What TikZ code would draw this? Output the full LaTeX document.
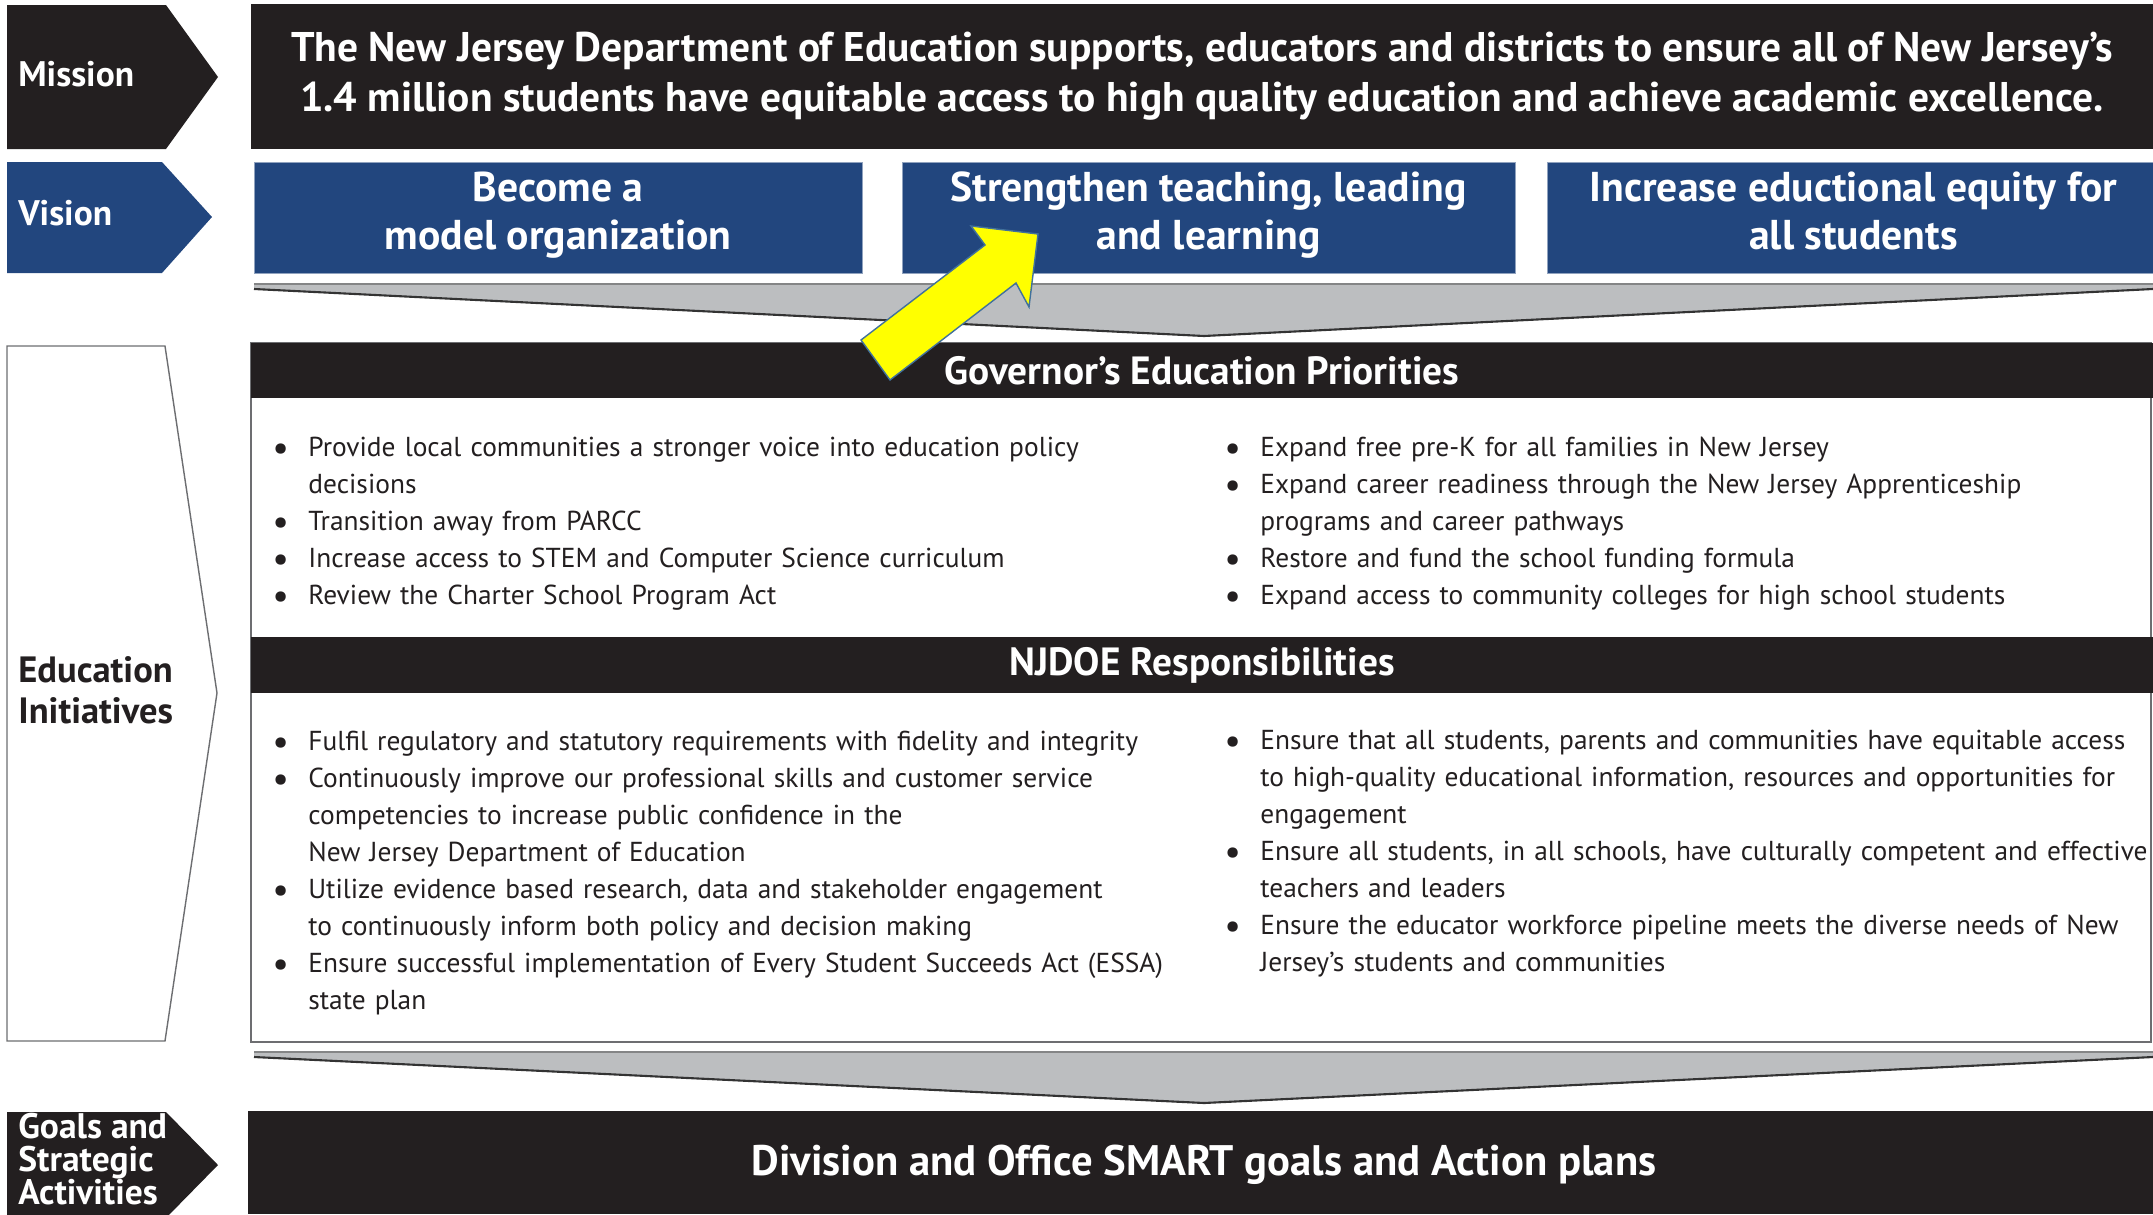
\documentclass[tikz,border=0pt]{standalone}
\usepackage{fontspec}
\setmainfont{PT Sans}
\usetikzlibrary{positioning, fit}

\definecolor{njblack}{HTML}{231F20}
\definecolor{njblue}{HTML}{22467E}
\definecolor{njgray}{HTML}{BCBEC0}
\definecolor{njline}{HTML}{6D6E71}
\definecolor{njyellow}{HTML}{FFFF00}
\definecolor{njoutline}{HTML}{41719C}

% bullet with hanging indent
\newcommand{\njitem}{\par\hangindent=20.5pt\hangafter=1\noindent
  \makebox[20.5pt][l]{\raisebox{-2.2pt}{\fontsize{21}{21}\selectfont\textbullet}}}

\begin{document}
\begin{tikzpicture}[
      x=0.02cm, y=-0.02cm,
      darkbar/.style={
        fill=njblack,
        inner sep=0pt,
      },
      bluebox/.style={
        fill=njblue,
        draw=njblue!50,
        inner sep=0pt,
      },
      bartext/.style={
        inner sep=0pt,
        text=white,
        align=center,
        font=\bfseries\fontsize{22.4}{26}\selectfont,
      },
      tagtext/.style={
        anchor=west,
        inner sep=0pt,
        text=white,
        align=left,
        font=\bfseries\fontsize{20.2}{19.6}\selectfont,
      },
      bullets/.style={
        anchor=north west,
        inner sep=0pt,
        text width=18.6cm,
        text=njblack,
        font=\fontsize{15.6}{21.05}\selectfont,
      },
      chevron/.style={
        fill=njgray,
      },
      chevedge/.style={
        draw=black!80,
        line width=1.2pt,
      }
    ]
      \useasboundingbox (0,0) rectangle (2153,1214);

      % left hand tags
      \fill[njblack] (7,5) -- (166,5) -- (218,77) -- (166,149) -- (7,149) -- cycle;
      \node[tagtext] (missiontag) at (18,74) {Mission};
      \fill[njblue] (7,162) -- (162,162) -- (212,217) -- (162,273) -- (7,273) -- cycle;
      \node[tagtext] (visiontag) at (18,213) {Vision};
      \draw[njline, line width=0.8pt, fill=white] (7,346) -- (165,346) -- (217,693) -- (165,1041) -- (7,1041) -- cycle;
      \node[tagtext, text=njblack, font=\bfseries\fontsize{20.8}{23.4}\selectfont] (edutag) at (18,690) {Education\\Initiatives};
      \fill[njblack] (7,1112) -- (166,1112) -- (218,1165) -- (166,1218) -- (7,1218) -- cycle;
      \node[tagtext, font=\bfseries\fontsize{20.2}{19}\selectfont] (goalstag) at (18,1159) {Goals and\\Strategic\\Activities};

      % mission
      \node[darkbar, fit={(251,4) (2153,149)}] (mission) {};
      \node[bartext, font=\bfseries\fontsize{23.6}{28.45}\selectfont] (missiontext) at (1202,76)
        {The New Jersey Department of Education supports, educators and districts to ensure all of New Jersey’s\\
         1.4 million students have equitable access to high quality education and achieve academic excellence.};

      % vision boxes
      \node[bluebox, fit={(254,162) (862,273)}] (model) {};
      \node[bluebox, fit={(902,162) (1515,273)}] (teach) {};
      \node[bluebox, fit={(1547,162) (2160,273)}] (equity) {};
      \begin{scope}[every node/.style={bartext, font=\bfseries\fontsize{23.7}{27.5}\selectfont}]
        \node (modeltext) at ([yshift=1pt]model.center) {\strut Become a\\model organization\strut};
        \node (teachtext) at ([yshift=1pt]teach.center) {\strut Strengthen teaching, leading\\and learning\strut};
        \node (equitytext) at ([yshift=1pt]equity.center) {\strut Increase eductional equity for\\all students\strut};
      \end{scope}

      % arrow shape below vision
      \fill[chevron] (254,284) -- (2153,284) -- (2153,289) -- (1204,336) -- (254,289) -- cycle;
      \draw[njgray!70!black, line width=0.6pt] (254,284) -- (2153,284);
      \draw[chevedge] (254,289) -- (1204,336) -- (2153,289);

      % initiatives container
      \draw[njline, line width=1.2pt, fill=white] (251,343) rectangle (2151,1042);
      \node[darkbar, fit={(251,343) (2153,398)}] (gov) {};
      \node[bartext] (govtext) at (gov.center) {Governor’s Education Priorities};
      \node[darkbar, fit={(251,637) (2153,693)}] (njdoe) {};
      \node[bartext] (njdoetext) at (njdoe.center) {NJDOE Responsibilities};

      % governor bullets
      \node[bullets] (govleft) at (272,419) {\raggedright
        \njitem Provide local communities a stronger voice into education policy\newline decisions
        \njitem Transition away from PARCC
        \njitem Increase access to STEM and Computer Science curriculum
        \njitem Review the Charter School Program Act\par};
      \node[bullets] (govright) at (1224,419) {\raggedright
        \njitem Expand free pre-K for all families in New Jersey
        \njitem Expand career readiness through the New Jersey Apprenticeship\newline programs and career pathways
        \njitem Restore and fund the school funding formula
        \njitem Expand access to community colleges for high school students\par};

      % njdoe bullets
      \node[bullets] (doeleft) at (272,713) {\raggedright
        \njitem Fulfil regulatory and statutory requirements with fidelity and integrity
        \njitem Continuously improve our professional skills and customer service\newline competencies to increase public confidence in the\newline New Jersey Department of Education
        \njitem Utilize evidence based research, data and stakeholder engagement\newline to continuously inform both policy and decision making
        \njitem Ensure successful implementation of Every Student Succeeds Act (ESSA)\newline state plan\par};
      \node[bullets] (doeright) at (1224,712) {\raggedright
        \njitem Ensure that all students, parents and communities have equitable access\newline to high-quality educational information, resources and opportunities for\newline engagement
        \njitem Ensure all students, in all schools, have culturally competent and effective\newline teachers and leaders
        \njitem Ensure the educator workforce pipeline meets the diverse needs of New\newline Jersey’s students and communities\par};

      % arrow shape below initiatives
      \fill[chevron] (254,1052) -- (2153,1052) -- (2153,1057) -- (1204,1103) -- (254,1057) -- cycle;
      \draw[njgray!70!black, line width=0.6pt] (254,1052) -- (2153,1052);
      \draw[chevedge] (254,1057) -- (1204,1103) -- (2153,1057);

      % goals
      \node[darkbar, fit={(248,1111) (2153,1214)}] (goals) {};
      \node[bartext, font=\bfseries\fontsize{24.3}{28}\selectfont] (goalstext) at (1204,1165)
        {Division and Office SMART goals and Action plans};

      % yellow highlight arrow
      \filldraw[fill=njyellow, draw=njoutline, line width=0.8pt]
        (861,340) -- (985,245) -- (971,226) -- (1038,234) -- (1029,307) -- (1016,283) -- (890,380) -- cycle;
    \end{tikzpicture}
\end{document}
